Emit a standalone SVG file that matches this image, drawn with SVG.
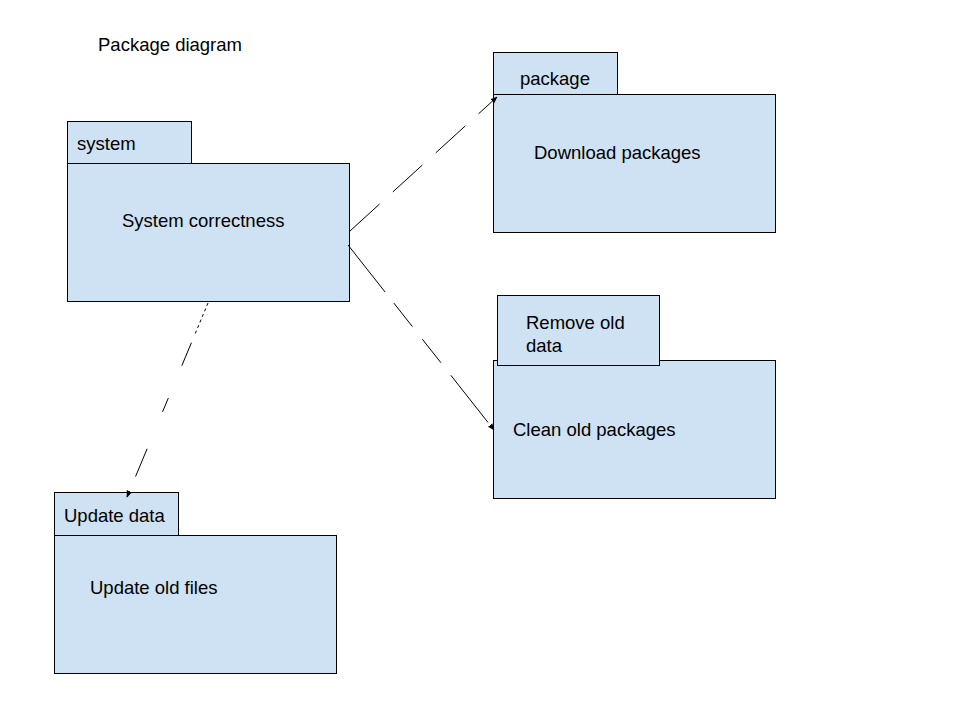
<svg xmlns="http://www.w3.org/2000/svg" width="960" height="720" viewBox="0 0 960 720">
  <style>
    .box { fill: #cfe2f3; stroke: #000000; stroke-width: 1; }
    .lbl { font-family: "Liberation Sans", Arial, sans-serif; font-size: 18.5px; fill: #000000; }
    .dep { fill: none; stroke: #000000; stroke-width: 1; }
  </style>
  <defs>
    <marker id="arrow" viewBox="0 0 10 10" refX="9" refY="5" markerWidth="7" markerHeight="7" orient="auto" markerUnits="userSpaceOnUse">
      <path d="M0,1 L10,5 L0,9 z" fill="#000000"/>
    </marker>
  </defs>
  <rect width="960" height="720" fill="#ffffff"/>

  <text class="lbl" x="98" y="51">Package diagram</text>

  <g id="system">
    <rect class="box" x="67.5" y="121.5" width="124" height="42"/>
    <rect class="box" x="67.5" y="163.5" width="282" height="138"/>
    <text class="lbl" x="77" y="150">system</text>
    <text class="lbl" x="122" y="227">System correctness</text>
  </g>

  <g id="package">
    <rect class="box" x="493.5" y="52.5" width="124" height="42"/>
    <rect class="box" x="493.5" y="94.5" width="282" height="138"/>
    <text class="lbl" x="520" y="85">package</text>
    <text class="lbl" x="534" y="159">Download packages</text>
  </g>

  <g id="remove-old-data">
    <rect class="box" x="493.5" y="360.5" width="282" height="138"/>
    <rect class="box" x="497.5" y="295.5" width="162" height="70"/>
    <text class="lbl" x="526" y="329">Remove old</text>
    <text class="lbl" x="526" y="352">data</text>
    <text class="lbl" x="513" y="436">Clean old packages</text>
  </g>

  <g id="update-data">
    <rect class="box" x="54.5" y="492.5" width="124" height="43"/>
    <rect class="box" x="54.5" y="535.5" width="282" height="138"/>
    <text class="lbl" x="64" y="522">Update data</text>
    <text class="lbl" x="90" y="594">Update old files</text>
  </g>

  <g id="connectors">
    <path class="dep" d="M350,231 L497,97" stroke-dasharray="40,18" marker-end="url(#arrow)"/>
    <path class="dep" d="M348,245 L494,430" stroke-dasharray="60,14,30,16,30,16" marker-end="url(#arrow)"/>
    <path class="dep" d="M208,303 L127,497" stroke-dasharray="3,3,3,3,3,3,3,3,3,3,3,10,25,35,15,40,30,20,60" marker-end="url(#arrow)"/>
  </g>
</svg>
